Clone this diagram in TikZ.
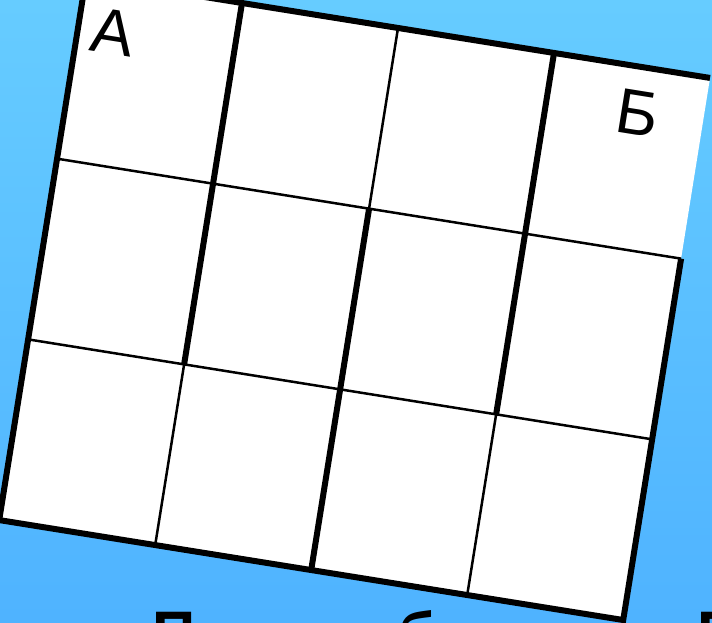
\documentclass[tikz,border=0pt]{standalone}
\usepackage{fontspec}
\setmainfont{Liberation Sans}
\usepackage{tikz}
\usepackage{xcolor}
\definecolor{skytop}{HTML}{66CCFF}
\definecolor{skybottom}{HTML}{4FB3FF}

\begin{document}
\begin{tikzpicture}[x=1pt, y=1pt,
  wall/.style={line width=6pt, line join=miter},
  thinwall/.style={line width=2.5pt},
  letter/.style={font=\fontsize{64}{64}\selectfont, inner sep=0pt, transform shape},
  bigletter/.style={font=\bfseries\fontsize{60}{60}\selectfont, inner sep=0pt, anchor=north west}]
\useasboundingbox (0,0) rectangle (712,622);
\shade[top color=skytop, bottom color=skybottom] (0,0) rectangle (712,622);
\begin{scope}[shift={(86,644)}, rotate=-9.1, x=158pt, y=183pt]
\fill[white] (0,0) rectangle (4,-3);
\draw[thinwall] (0,-1) -- (4,-1);
\draw[thinwall] (0,-2) -- (4,-2);
\draw[thinwall] (1,-2) -- (1,-3);
\draw[thinwall] (2,0) -- (2,-1);
\draw[thinwall] (3,-2) -- (3,-3);
\draw[wall] (1,0) -- (1,-2);
\draw[wall] (2,-1) -- (2,-3);
\draw[wall] (3,0) -- (3,-2);
\draw[wall] (4,-1) -- (4,-3) -- (0,-3) -- (0,0) -- (4,0);
\node[letter] (start) at (0.225,-0.27) {А};
\node[letter] (finish) at (3.586,-0.25) {Б};
\end{scope}
\node[bigletter] (w1) at (152,10) {П};
\node[bigletter] (w2) at (398,12) {б};
\node[bigletter] (w3) at (697,10) {П};
\end{tikzpicture}
\end{document}
